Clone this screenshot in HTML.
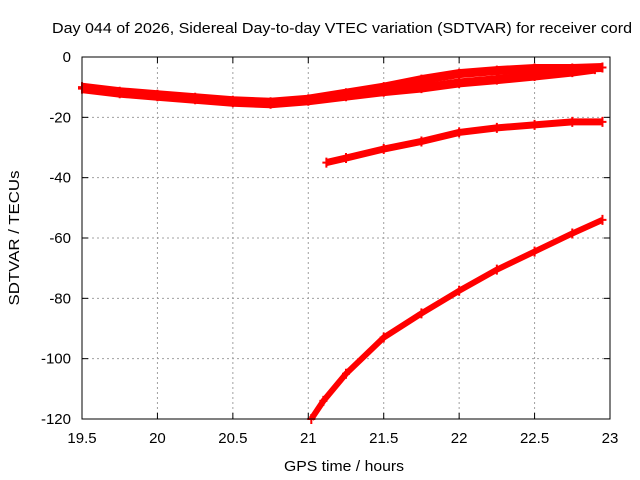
<!DOCTYPE html>
<html><head><meta charset="utf-8"><style>
body{margin:0;background:#fff}
svg{display:block;font-family:"Liberation Sans",sans-serif}
</style></head><body>
<svg id="chart" width="640" height="480">
<text x="52" y="33" font-size="15" textLength="580" lengthAdjust="spacingAndGlyphs">Day 044 of 2026, Sidereal Day-to-day VTEC variation (SDTVAR) for receiver cord</text>
<text transform="translate(19,238) rotate(-90)" font-size="15" text-anchor="middle" textLength="135" lengthAdjust="spacingAndGlyphs">SDTVAR / TECUs</text>
<text x="344" y="471" font-size="15" text-anchor="middle" textLength="120" lengthAdjust="spacingAndGlyphs">GPS time / hours</text>
<g id="grid"></g><g id="marks"></g><g id="axes"></g>
</svg>
<script>
const xTicks=[19.5,20,20.5,21,21.5,22,22.5,23];
const yTicks=[0,-20,-40,-60,-80,-100,-120];
const sA_x=[19.5,19.75,20,20.25,20.5,20.75,21,21.25,21.5,21.75,22,22.25,22.5,22.75,22.95];
const sA_y=[-10,-11.5,-12.5,-13.5,-14.5,-15,-14,-12,-10,-7.5,-5.5,-4.5,-3.8,-3.8,-3.5];
const sB_x=[19.5,19.75,20,20.25,20.5,20.75,21,21.25,21.5,21.75,22,22.25,22.5,22.75,22.9];
const sB_y=[-10.5,-12,-13,-14,-15,-15.5,-14.5,-13,-11.5,-10.3,-8.6,-7.5,-6.3,-5,-4];
const sC_x=[21.12,21.25,21.5,21.75,22,22.25,22.5,22.75,22.95];
const sC_y=[-35,-33.5,-30.5,-28,-25,-23.5,-22.5,-21.5,-21.5];
const sD_x=[21.02,21.1,21.25,21.5,21.75,22,22.25,22.5,22.75,22.95];
const sD_y=[-120,-114,-105,-93,-85,-77.5,-70.5,-64.5,-58.5,-54];
const L=82,R=610,T=57,B=419;
const sx=v=>L+(v-19.5)/3.5*(R-L);
const sy=v=>T+(0-v)/120*(B-T);
const NS="http://www.w3.org/2000/svg";
function mk(p,tag,a){const e=document.createElementNS(NS,tag);for(const k in a)e.setAttribute(k,a[k]);p.appendChild(e);return e;}
const grid=document.getElementById('grid'),axes=document.getElementById('axes'),marks=document.getElementById('marks');
xTicks.forEach(t=>{const x=sx(t);
 if(t>19.5&&t<23){const g=mk(grid,'line',{x1:x,x2:x,y1:T,y2:B,stroke:'#a0a0a0','stroke-dasharray':'2,3'});
 
 }
 mk(axes,'line',{x1:x,x2:x,y1:B,y2:B-6,stroke:'#000'});mk(axes,'line',{x1:x,x2:x,y1:T,y2:T+6,stroke:'#000'});
 const tx=mk(axes,'text',{x:x,y:B+24,'font-size':15,'text-anchor':'middle'});tx.textContent=t;
 
 });
yTicks.forEach(t=>{const y=sy(t);
 if(t<0&&t>-120){const g=mk(grid,'line',{x1:L,x2:R,y1:y,y2:y,stroke:'#a0a0a0','stroke-dasharray':'2,3'});
 
 }
 mk(axes,'line',{x1:L,x2:L+6,y1:y,y2:y,stroke:'#000'});mk(axes,'line',{x1:R,x2:R-6,y1:y,y2:y,stroke:'#000'});
 const tx=mk(axes,'text',{x:L-11,y:y+5,'font-size':15,'text-anchor':'end'});tx.textContent=t;
 
 });
const border=mk(axes,'rect',{x:L,y:T,width:R-L,height:B-T,fill:'none',stroke:'#000'});


function series(xs,ys,w,name){
 const pts=xs.map((v,i)=>sx(v)+','+sy(ys[i])).join(' ');
 const pl=mk(marks,'polyline',{points:pts,fill:'none',stroke:'#ff0000','stroke-width':w,'stroke-linejoin':'round'});
 
 
 xs.forEach((v,i)=>{const x=sx(v),y=sy(ys[i]);
  const p=mk(marks,'path',{d:`M${x-4},${y}H${x+4}M${x},${y-5}V${y+5}`,stroke:'#ff0000','stroke-width':2});
  
  });
}
series(sA_x,sA_y,9,'series-a');
series(sB_x,sB_y,9,'series-b');
series(sC_x,sC_y,7,'series-c');
series(sD_x,sD_y,6,'series-d');
</script>
</body></html>
